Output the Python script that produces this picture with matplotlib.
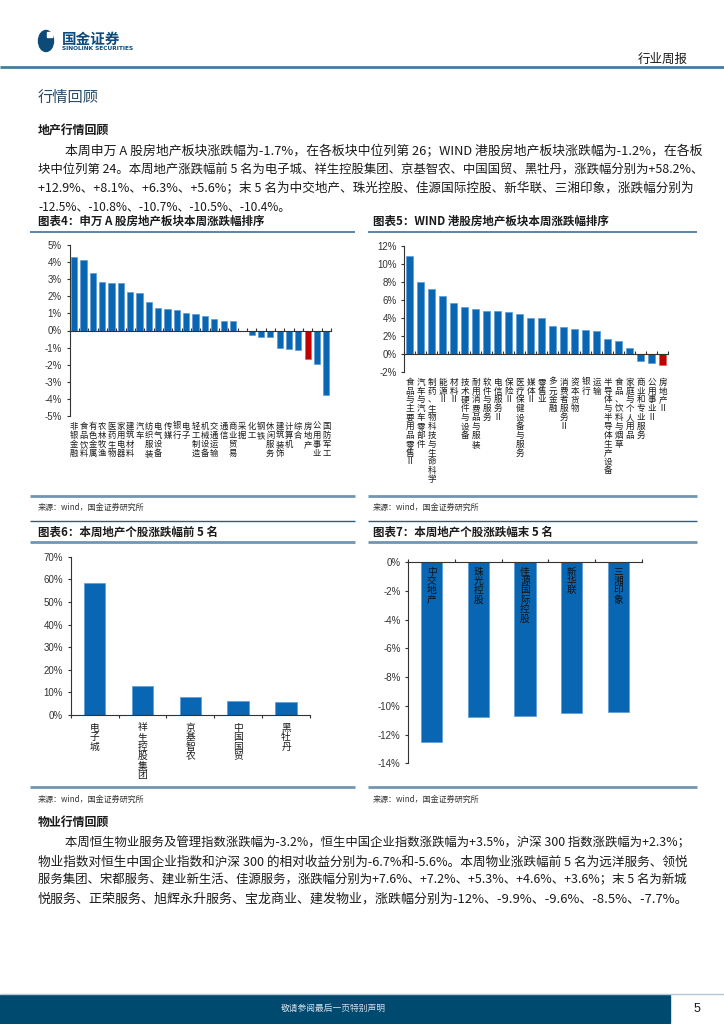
import numpy as np
import matplotlib
matplotlib.use('Agg')
import matplotlib.pyplot as plt
from matplotlib.patches import Rectangle, Ellipse
from matplotlib.lines import Line2D

W, H = 724, 1024
CJK = ['Noto Sans CJK SC', 'DejaVu Sans']
plt.rcParams['font.family'] = CJK
plt.rcParams['axes.unicode_minus'] = False

# ---------------- data ----------------
sw_labels = ['非银金融', '食品饮料', '有色金属', '农林牧渔', '医药生物', '家用电器', '建筑材料',
             '汽车', '纺织服装', '电气设备', '传媒', '银行', '电子', '轻工制造', '机械设备',
             '交通运输', '通信', '商业贸易', '采掘', '化工', '钢铁', '休闲服务', '建筑装饰',
             '计算机', '综合', '房地产', '公用事业', '国防军工']
sw_values = [4.30, 4.11, 3.36, 2.87, 2.78, 2.78, 2.24, 2.19, 1.70, 1.33, 1.27, 1.23, 1.02,
             0.96, 0.86, 0.68, 0.53, 0.53, 0.0, -0.25, -0.41, -0.41, -1.00, -1.06, -1.12,
             -1.70, -1.96, -3.76]
sw_highlight = '房地产'

hk_labels = ['食品与主要用品零售Ⅱ', '汽车与汽车零部件', '制药、生物科技与生命科学', '能源Ⅱ', '材料Ⅱ',
             '技术硬件与设备', '耐用消费品与服装', '软件与服务', '电信服务Ⅱ', '保险Ⅱ',
             '医疗保健设备与服务', '媒体Ⅱ', '零售业', '多元金融', '消费者服务Ⅱ', '资本货物',
             '银行', '运输', '半导体与半导体生产设备', '食品、饮料与烟草', '家庭与个人用品',
             '商业和专业服务', '公用事业Ⅱ', '房地产Ⅱ']
hk_values = [10.9, 8.0, 7.2, 6.45, 5.7, 5.25, 4.95, 4.78, 4.78, 4.67, 4.48, 3.96, 3.96,
             3.15, 2.96, 2.78, 2.67, 2.56, 1.67, 1.44, 0.67, -0.78, -1.04, -1.2]
hk_highlight = '房地产Ⅱ'

top5_names = ['电子城', '祥生控股集团', '京基智农', '中国国贸', '黑牡丹']
top5_values = [58.2, 12.9, 8.1, 6.3, 5.6]
bot5_names = ['中交地产', '珠光控股', '佳源国际控股', '新华联', '三湘印象']
bot5_values = [-12.5, -10.8, -10.7, -10.5, -10.4]

para1 = ['本周申万 A 股房地产板块涨跌幅为-1.7%，在各板块中位列第 26；WIND 港股房地产板块涨跌幅为-1.2%，在各板',
         '块中位列第 24。本周地产涨跌幅前 5 名为电子城、祥生控股集团、京基智农、中国国贸、黑牡丹，涨跌幅分别为+58.2%、',
         '+12.9%、+8.1%、+6.3%、+5.6%；末 5 名为中交地产、珠光控股、佳源国际控股、新华联、三湘印象，涨跌幅分别为',
         '-12.5%、-10.8%、-10.7%、-10.5%、-10.4%。']
para2 = ['本周恒生物业服务及管理指数涨跌幅为-3.2%，恒生中国企业指数涨跌幅为+3.5%，沪深 300 指数涨跌幅为+2.3%；',
         '物业指数对恒生中国企业指数和沪深 300 的相对收益分别为-6.7%和-5.6%。本周物业涨跌幅前 5 名为远洋服务、领悦',
         '服务集团、宋都服务、建业新生活、佳源服务，涨跌幅分别为+7.6%、+7.2%、+5.3%、+4.6%、+3.6%；末 5 名为新城',
         '悦服务、正荣服务、旭辉永升服务、宝龙商业、建发物业，涨跌幅分别为-12%、-9.9%、-9.6%、-8.5%、-7.7%。']

# ---------------- styles ----------------
BLUE = '#0866b2'
EDGE = '#5b9bd5'
RED = '#c00000'
NAVY = '#004a6f'
TXT = '#1a1a1a'
NUMFONT = ['Liberation Sans', 'DejaVu Sans']

fig = plt.figure(figsize=(W / 100, H / 100), dpi=100)
renderer = fig.canvas.get_renderer()


def fx(x):
    return x / W


def fy(y):
    return 1 - y / H


def hline(y, x0, x1, color, lw):
    fig.add_artist(Line2D([fx(x0), fx(x1)], [fy(y), fy(y)], transform=fig.transFigure,
                          color=color, lw=lw, solid_capstyle='butt'))


def ftext(x, y, s, **kw):
    kw.setdefault('va', 'center')
    kw.setdefault('ha', 'left')
    return fig.text(fx(x), fy(y), s, **kw)


def fit_line(s, x0, x1, y, fs, **kw):
    t = ftext(x0, y, s, fontsize=fs, color=TXT, **kw)
    if x1 is not None:
        w = t.get_window_extent(renderer).width
        scale = (x1 - x0) / w
        scale = min(max(scale, 0.88), 1.12)
        t.set_fontsize(fs * scale)
    return t


def ax_px(l, t, r, b):
    return fig.add_axes([fx(l), fy(b), (r - l) / W, (b - t) / H])


def style_y(ax, ticks):
    ax.set_yticks(ticks)
    ax.set_yticklabels([f'{v:.0f}%' for v in ticks], family=NUMFONT, fontsize=7, color='#333333')
    ax.tick_params(axis='y', direction='out', length=2.5, width=0.8, pad=3, color='#333333')
    ax.spines['left'].set_color('#333333')
    ax.spines['left'].set_linewidth(0.8)
    for s in ['right']:
        ax.spines[s].set_visible(False)
    ax.set_facecolor('none')


# ---------------- header ----------------
fig.add_artist(Ellipse((fx(46), fy(41)), 15 / W, 21 / H, transform=fig.transFigure,
                       color='#0d4a78'))
fig.add_artist(Rectangle((fx(47), fy(37)), 5 / W, 5 / H, transform=fig.transFigure,
                         color='white'))
ftext(62, 39, '国金证券', fontsize=10.5, fontweight='bold', color='#0d4a78')
ftext(62, 48, 'SINOLINK SECURITIES', fontsize=4.2, fontweight='bold', color='#0d4a78',
      family=['DejaVu Sans'])
ftext(688, 59, '行业周报', fontsize=9, color=TXT, ha='right')
hline(67, 0, W, '#4b7a9c', 2)
ftext(38, 97, '行情回顾', fontsize=11, color='#2b4a66')

# ---------------- paragraph 1 ----------------
ftext(38, 131, '地产行情回顾', fontsize=8.6, fontweight='bold', color=TXT)
p1_y = [152, 170, 188, 207]
p1_x = [(65, 700), (38, 700), (38, 690), (38, None)]
for s, y, (a, b) in zip(para1, p1_y, p1_x):
    fit_line(s, a, b, y, 8.6)

# ---------------- chart titles ----------------
ftext(38, 221, '图表4：申万 A 股房地产板块本周涨跌幅排序', fontsize=8.3, fontweight='bold', color=TXT)
ftext(373, 221, '图表5：WIND 港股房地产板块本周涨跌幅排序', fontsize=8.3, fontweight='bold', color=TXT)
hline(232, 30, 355, '#3d6f97', 1.2)
hline(232, 368, 697, '#3d6f97', 1.2)

# ---------------- chart 4 ----------------
ax4 = ax_px(69.5, 245.3, 331, 415.7)
x4 = np.arange(len(sw_labels))
c4 = [RED if l == sw_highlight else BLUE for l in sw_labels]
e4 = ['#e06060' if l == sw_highlight else EDGE for l in sw_labels]
ax4.bar(x4, sw_values, width=0.66, color=c4, edgecolor=e4, linewidth=0.5)
ax4.set_xlim(-0.5, len(sw_labels) - 0.5)
ax4.set_ylim(-5, 5)
style_y(ax4, list(range(-5, 6)))
ax4.spines['top'].set_visible(False)
ax4.spines['bottom'].set_position(('data', 0))
ax4.spines['bottom'].set_color('#333333')
ax4.spines['bottom'].set_linewidth(0.8)
ax4.set_xticks(np.arange(-0.5, len(sw_labels), 1))
ax4.tick_params(axis='x', direction='in', length=2.5, width=0.8, labelbottom=False, color='#333333')
for i, lab in enumerate(sw_labels):
    ax4.text(i, -0.035, '\n'.join(lab), transform=ax4.get_xaxis_transform(), ha='center',
             va='top', fontsize=6.0, linespacing=1.02, color=TXT)

# ---------------- chart 5 ----------------
ax5 = ax_px(404.3, 246, 668.3, 372)
x5 = np.arange(len(hk_labels))
c5 = [RED if l == hk_highlight else BLUE for l in hk_labels]
e5 = ['#e06060' if l == hk_highlight else EDGE for l in hk_labels]
ax5.bar(x5, hk_values, width=0.66, color=c5, edgecolor=e5, linewidth=0.5)
ax5.set_xlim(-0.5, len(hk_labels) - 0.5)
ax5.set_ylim(-2, 12)
style_y(ax5, list(range(-2, 13, 2)))
ax5.spines['top'].set_visible(False)
ax5.spines['bottom'].set_position(('data', 0))
ax5.spines['bottom'].set_color('#333333')
ax5.spines['bottom'].set_linewidth(0.8)
ax5.set_xticks(np.arange(-0.5, len(hk_labels), 1))
ax5.tick_params(axis='x', direction='in', length=2.5, width=0.8, labelbottom=False, color='#333333')
for i, lab in enumerate(hk_labels):
    ax5.text(i, -0.045, '\n'.join(lab), transform=ax5.get_xaxis_transform(), ha='center',
             va='top', fontsize=6.2, linespacing=0.98, color=TXT)

# ---------------- sources / separators ----------------
hline(496, 30, 355, '#7096b3', 2)
hline(496, 368, 697, '#7096b3', 2)
ftext(38, 507, '来源：wind，国金证券研究所', fontsize=5.8, color='#333333')
ftext(373, 507, '来源：wind，国金证券研究所', fontsize=5.8, color='#333333')
hline(521, 30, 355, '#2a5f8c', 1)
hline(521, 368, 697, '#2a5f8c', 1)
ftext(38, 532, '图表6：本周地产个股涨跌幅前 5 名', fontsize=8.3, fontweight='bold', color=TXT)
ftext(373, 532, '图表7：本周地产个股涨跌幅末 5 名', fontsize=8.3, fontweight='bold', color=TXT)
hline(542, 30, 355, '#7096b3', 2)
hline(542, 368, 697, '#7096b3', 2)

# ---------------- chart 6 ----------------
ax6 = ax_px(70.7, 556.7, 310, 715)
x6 = np.arange(len(top5_names))
ax6.bar(x6, top5_values, width=0.45, color=BLUE, edgecolor=EDGE, linewidth=0.5)
ax6.set_xlim(-0.5, len(top5_names) - 0.5)
ax6.set_ylim(0, 70)
style_y(ax6, list(range(0, 71, 10)))
ax6.spines['top'].set_visible(False)
ax6.spines['bottom'].set_color('#333333')
ax6.spines['bottom'].set_linewidth(0.8)
ax6.set_xticks(np.arange(-0.5, len(top5_names), 1))
ax6.tick_params(axis='x', direction='out', length=2.5, width=0.8, labelbottom=False, color='#333333')
for i, lab in enumerate(top5_names):
    ax6.text(i, -0.05, '\n'.join(lab), transform=ax6.get_xaxis_transform(), ha='center',
             va='top', fontsize=7, linespacing=0.93, color=TXT)

# ---------------- chart 7 ----------------
ax7 = ax_px(408.3, 562.3, 641.7, 763.3)
x7 = np.arange(len(bot5_names))
ax7.bar(x7, bot5_values, width=0.46, color=BLUE, edgecolor=EDGE, linewidth=0.5)
ax7.set_xlim(-0.5, len(bot5_names) - 0.5)
ax7.set_ylim(-14, 0)
style_y(ax7, list(range(-14, 1, 2)))
ax7.spines['bottom'].set_visible(False)
ax7.spines['top'].set_color('#333333')
ax7.spines['top'].set_linewidth(0.8)
ax7.xaxis.set_ticks_position('top')
ax7.set_xticks(np.arange(-0.5, len(bot5_names), 1))
ax7.tick_params(axis='x', direction='out', length=2.5, width=0.8, labeltop=False,
                labelbottom=False, color='#333333')
for i, lab in enumerate(bot5_names):
    ax7.text(i, -0.3, '\n'.join(lab), ha='center', va='top', fontsize=7, linespacing=0.92,
             color='#111111')

hline(787, 30, 355, '#7096b3', 2)
hline(787, 368, 697, '#7096b3', 2)
ftext(38, 799, '来源：wind，国金证券研究所', fontsize=5.8, color='#333333')
ftext(373, 799, '来源：wind，国金证券研究所', fontsize=5.8, color='#333333')

# ---------------- paragraph 2 ----------------
ftext(38, 822, '物业行情回顾', fontsize=8.6, fontweight='bold', color=TXT)
p2_y = [843, 862, 880, 899]
p2_x = [(65, 686), (38, 686), (38, 686), (38, 686)]
for s, y, (a, b) in zip(para2, p2_y, p2_x):
    fit_line(s, a, b, y, 8.6)

# ---------------- footer ----------------
hline(993.5, 0, W, '#b4c8d8', 1)
fig.add_artist(Rectangle((0, fy(1023)), fx(670), (1023 - 994.5) / H, transform=fig.transFigure,
                         color=NAVY))
ftext(333, 1008, '敬请参阅最后一页特别声明', fontsize=6.3, color='#d5e0ea', ha='center')
ftext(697, 1009, '5', fontsize=9, color=TXT, ha='center', family=NUMFONT)

fig.savefig('out.png', dpi=100)
